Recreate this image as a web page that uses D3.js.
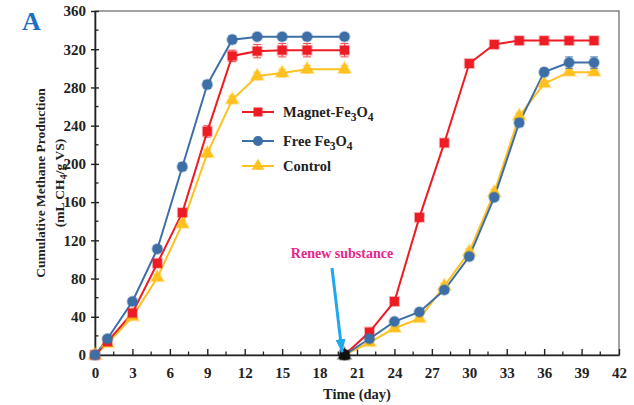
<!DOCTYPE html>
<html>
<head>
<meta charset="utf-8">
<style>
  body { margin: 0; background: #fff; }
  text { font-family: "Liberation Serif", "Times New Roman", serif; font-weight: bold; }
</style>
</head>
<body>
<svg id="chart" width="634" height="405"></svg>
<script src="https://d3js.org/d3.v7.min.js"></script>
<script>
// sampling days for the two feeding runs
const days1 = [0, 1, 3, 5, 7, 9, 11, 13, 15, 17, 20];
const days2 = [20, 22, 24, 26, 28, 30, 32, 34, 36, 38, 40];

// cumulative methane (mL CH4/g VS)
const magnet1  = [0, 14, 44, 96, 149, 234, 313, 318, 319, 319, 319];
const free1    = [0, 17, 56, 111, 197, 283, 330, 333, 333, 333, 333];
const control1 = [0, 12, 40, 81, 137, 211, 267, 292, 295, 299, 299];
const magnet2  = [0, 24, 56, 144, 222, 305, 325, 329, 329, 329, 329];
const free2    = [0, 17, 35, 45, 68, 103, 165, 243, 296, 306, 306];
const control2 = [0, 13, 28, 38, 72, 108, 170, 250, 284, 296, 296];

// error bars
const magnetErr1  = [0, 2, 3, 4, 4, 6, 6, 7, 7, 7, 7];
const freeErr1    = [0, 2, 3, 3, 4, 4, 4, 3, 3, 3, 3];
const controlErr1 = [0, 2, 2, 3, 3, 4, 4, 4, 4, 4, 4];
const magnetErr2  = [0, 2, 2, 3, 3, 3, 3, 3, 3, 3, 3];
const freeErr2    = [0, 2, 2, 2, 3, 3, 3, 4, 4, 6, 6];
const controlErr2 = [0, 2, 2, 2, 3, 3, 3, 3, 3, 3, 3];

const xTicks = [0, 3, 6, 9, 12, 15, 18, 21, 24, 27, 30, 33, 36, 39, 42];
const yTicks = [0, 40, 80, 120, 160, 200, 240, 280, 320, 360];

const series = [
  { name: "Magnet", color: "#ee1c24", shape: d3.symbolSquare,   size: 80,
    runs: [[days1, magnet1, magnetErr1], [days2, magnet2, magnetErr2]] },
  { name: "Free", color: "#3d6fa6", shape: d3.symbolCircle,     size: 80,
    runs: [[days1, free1, freeErr1], [days2, free2, freeErr2]] },
  { name: "Control", color: "#ffc11f", shape: d3.symbolTriangle, size: 70,
    runs: [[days1, control1, controlErr1], [days2, control2, controlErr2]] }
];
// draw order: control under, then magnet, then free on top
const drawOrder = [2, 0, 1];

const margin = { top: 11, right: 15, bottom: 50, left: 95 };
const W = 634, H = 405;
const width = W - margin.left - margin.right;
const height = H - margin.top - margin.bottom;

const svg = d3.select("#chart");
const g = svg.append("g").attr("transform", `translate(${margin.left},${margin.top})`);

const x = d3.scaleLinear().domain([0, 42]).range([0, width]);
const y = d3.scaleLinear().domain([0, 360]).range([height, 0]);

// frame
g.append("rect").attr("width", width).attr("height", height)
  .attr("fill", "none").attr("stroke", "#666").attr("stroke-width", 1.2);

// minor ticks
g.append("g").selectAll("line").data(d3.range(1.5, 42, 3)).join("line")
  .attr("x1", d => x(d)).attr("x2", d => x(d))
  .attr("y1", height).attr("y2", height - 3.5)
  .attr("stroke", "#222").attr("stroke-width", 1.3);
g.append("g").selectAll("line").data(d3.range(20, 360, 40)).join("line")
  .attr("y1", d => y(d)).attr("y2", d => y(d))
  .attr("x1", 0).attr("x2", 3.5)
  .attr("stroke", "#222").attr("stroke-width", 1.3);

// axes
const xAxis = g.append("g").attr("transform", `translate(0,${height})`)
  .call(d3.axisBottom(x).tickValues(xTicks).tickSizeInner(-6).tickSizeOuter(0).tickPadding(12));
const yAxis = g.append("g")
  .call(d3.axisLeft(y).tickValues(yTicks).tickSizeInner(4).tickSizeOuter(0).tickPadding(5));
[xAxis, yAxis].forEach(a => {
  a.select(".domain").attr("stroke", "#222").attr("stroke-width", 1.6);
  a.selectAll(".tick line").attr("stroke", "#222").attr("stroke-width", 1.4);
  a.selectAll(".tick text").attr("font-family", "Liberation Serif")
    .attr("font-weight", "bold").attr("font-size", 15).attr("fill", "#222");
});
yAxis.selectAll(".tick").append("line").attr("x2", 4).attr("stroke", "#222").attr("stroke-width", 1.4);

// lines, error bars, markers
const line = d3.line().x(d => x(d[0])).y(d => y(d[1]));
drawOrder.forEach(i => {
  const s = series[i];
  s.runs.forEach(([days, vals, errs]) => {
    const pts = days.map((d, k) => [d, vals[k], errs[k]]);
    g.append("path").datum(pts).attr("d", line)
      .attr("fill", "none").attr("stroke", s.color).attr("stroke-width", 2);
  });
});
drawOrder.forEach(i => {
  const s = series[i];
  s.runs.forEach(([days, vals, errs], r) => {
    const pts = days.map((d, k) => [d, vals[k], errs[k]]);
    const eb = g.append("g").attr("stroke", s.color).attr("stroke-width", 1.1).attr("opacity", 0.75);
    pts.filter(p => p[2] > 0).forEach(p => {
      eb.append("line").attr("x1", x(p[0])).attr("x2", x(p[0]))
        .attr("y1", y(p[1] - p[2])).attr("y2", y(p[1] + p[2]));
      [p[1] - p[2], p[1] + p[2]].forEach(v => eb.append("line")
        .attr("x1", x(p[0]) - 4).attr("x2", x(p[0]) + 4)
        .attr("y1", y(v)).attr("y2", y(v)));
    });
    g.append("g").selectAll("path").data(pts).join("path")
      .attr("transform", p => `translate(${x(p[0])},${y(p[1])})`)
      .attr("d", d3.symbol().type(s.shape).size(s.size))
      .attr("fill", p => (r === 1 && p[0] === 20) ? "#111" : s.color)
      .attr("stroke", p => (r === 1 && p[0] === 20) ? "#111" : s.color)
      .attr("stroke-opacity", 0.35).attr("stroke-width", 2);
  });
});

// legend
const legendRows = [
  { s: series[0], label: ["Magnet-Fe", "3", "O", "4"] },
  { s: series[1], label: ["Free Fe", "3", "O", "4"] },
  { s: series[2], label: ["Control"] }
];
const ly = [112, 141, 166];
legendRows.forEach((row, k) => {
  const lg = svg.append("g").attr("transform", `translate(242,${ly[k]})`);
  lg.append("line").attr("x1", 0).attr("x2", 32).attr("stroke", row.s.color).attr("stroke-width", 2);
  lg.append("path").attr("transform", "translate(16,0)")
    .attr("d", d3.symbol().type(row.s.shape).size(row.s.size)).attr("fill", row.s.color);
  const t = lg.append("text").attr("x", 41).attr("y", 5).attr("font-size", 14.5).attr("fill", "#222");
  row.label.forEach((part, j) => {
    const sub = j % 2 === 1;
    t.append("tspan").text(part)
      .attr("dy", j === 0 ? 0 : (sub ? 4 : -4))
      .attr("font-size", sub ? 11.5 : 14.5);
  });
});

// panel label
svg.append("text").attr("x", 22).attr("y", 30).attr("font-size", 26)
  .attr("fill", "#1b6fc2").text("A");

// axis titles
svg.append("text").attr("x", margin.left + width / 2).attr("y", 399)
  .attr("text-anchor", "middle").attr("font-size", 14.5).attr("fill", "#222").text("Time (day)");
const yl = svg.append("g").attr("transform", `translate(0,${margin.top + height / 2}) rotate(-90)`);
yl.append("text").attr("x", 0).attr("y", 45).attr("text-anchor", "middle")
  .attr("font-size", 13.5).attr("fill", "#222").text("Cumulative Methane Production");
const yl2 = yl.append("text").attr("x", 0).attr("y", 64).attr("text-anchor", "middle")
  .attr("font-size", 13.5).attr("fill", "#222");
yl2.append("tspan").text("(mL CH");
yl2.append("tspan").text("4").attr("font-size", 10.5).attr("dy", 3);
yl2.append("tspan").text("/g VS)").attr("dy", -3);

// renew annotation
svg.append("text").attr("x", 342).attr("y", 258).attr("text-anchor", "middle")
  .attr("font-size", 14).attr("fill", "#e6278c").text("Renew substance");
svg.append("defs").append("marker").attr("id", "ah")
  .attr("viewBox", "0 0 14 10").attr("refX", 13).attr("refY", 5)
  .attr("markerUnits", "userSpaceOnUse")
  .attr("markerWidth", 14).attr("markerHeight", 10).attr("orient", "auto")
  .append("path").attr("d", "M0,0 L14,5 L0,10 z").attr("fill", "#21a7ee");
svg.append("line")
  .attr("x1", 332).attr("y1", 268)
  .attr("x2", x(19.8) + margin.left).attr("y2", y(3) + margin.top)
  .attr("stroke", "#21a7ee").attr("stroke-width", 3).attr("marker-end", "url(#ah)");
</script>
</body>
</html>
